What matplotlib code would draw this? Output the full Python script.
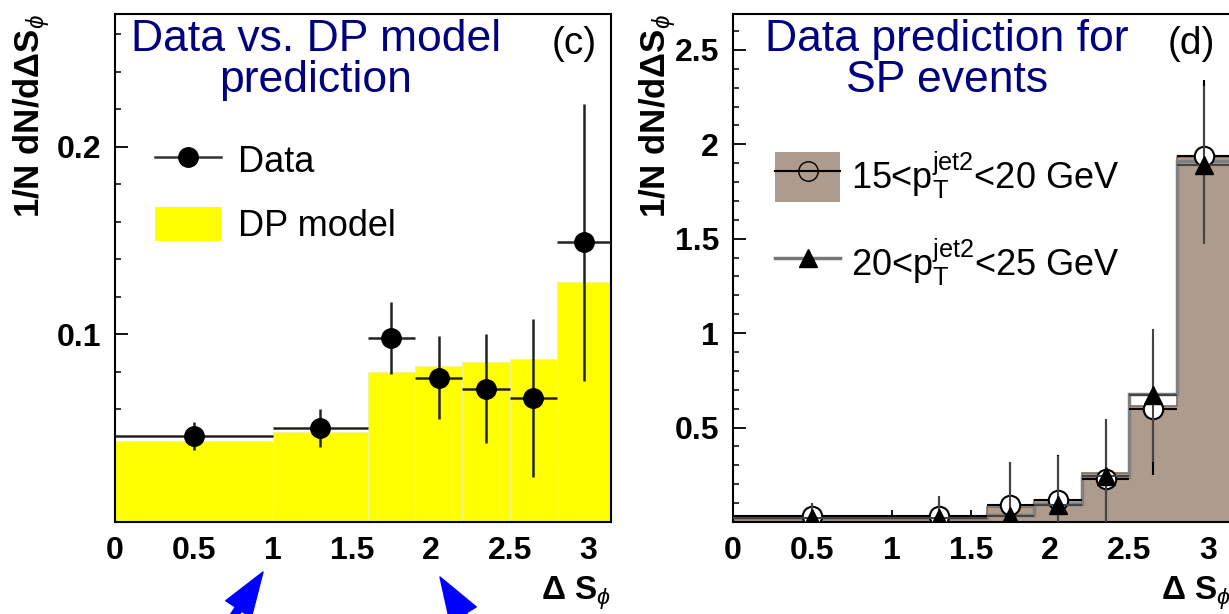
import matplotlib
matplotlib.use("Agg")
import matplotlib.pyplot as plt
import numpy as np
from matplotlib.patches import Patch, FancyArrowPatch
from matplotlib.lines import Line2D
from matplotlib.ticker import MultipleLocator

plt.rcParams['font.family'] = ['Liberation Sans', 'DejaVu Sans']
plt.rcParams['mathtext.fontset'] = 'custom'
plt.rcParams['mathtext.rm'] = 'Liberation Sans'
plt.rcParams['mathtext.it'] = 'Liberation Sans:italic'
plt.rcParams['mathtext.bf'] = 'Liberation Sans:bold'

# bin edges (same for both panels)
edges = [0, 1.0, 1.6, 1.9, 2.2, 2.5, 2.8, np.pi]

# panel (c)
dp_model = [0.043, 0.048, 0.080, 0.083, 0.085, 0.087, 0.128]
data_x = [0.5, 1.3, 1.75, 2.05, 2.35, 2.65, 2.97]
data_y = [0.0457, 0.050, 0.098, 0.077, 0.071, 0.066, 0.149]
data_err = [0.0075, 0.010, 0.019, 0.022, 0.029, 0.042, 0.074]

# panel (d)
sp_1520 = [0.02, 0.02, 0.077, 0.114, 0.257, 0.616, 1.934]
sp_2025 = [0.02, 0.02, 0.035, 0.095, 0.240, 0.680, 1.910]
pt1520_y = [0.03, 0.03, 0.088, 0.114, 0.230, 0.600, 1.940]
pt1520_err = [0.07, 0.11, 0.23, 0.24, 0.31, 0.35, 0.40]
pt2025_y = [0.02, 0.02, 0.030, 0.092, 0.246, 0.670, 1.890]
pt2025_err = [0.08, 0.12, 0.29, 0.26, 0.30, 0.35, 0.42]

lo = np.array(edges[:-1])
hi = np.array(edges[1:])
widths = hi - lo
half = widths / 2

fig = plt.figure(figsize=(12.29, 6.14), dpi=100)
axc = fig.add_axes([115/1229, 92/614, 496/1229, 508/614])
axd = fig.add_axes([733/1229, 92/614, 498/1229, 508/614])

navy = '#000080'
brown = '#ad9b8d'

# ---- (c)
axc.bar(lo, dp_model, width=widths, align='edge', color='#ffff00',
        edgecolor='#f4f4a0', lw=0.8, zorder=1)
axc.errorbar(data_x, data_y, yerr=data_err, xerr=half, fmt='o', color='black',
             ecolor='#222222', elinewidth=1.8, ms=14, capsize=0, zorder=3)
axc.set_xlim(0, np.pi)
axc.set_ylim(0, 0.2707)
axc.yaxis.set_minor_locator(MultipleLocator(0.02))
axc.set_yticks([0.1, 0.2])
axc.set_yticklabels(['0.1', '0.2'])
axc.text(0.405, 0.99, 'Data vs. DP model\nprediction', transform=axc.transAxes,
         ha='center', va='top', color=navy, fontsize=32, linespacing=1.0)
axc.text(0.972, 0.976, '(c)', transform=axc.transAxes, ha='right', va='top', fontsize=28)
hc = [Line2D([], [], color='#333333', lw=1.8, marker='o', ms=14, mfc='black', mec='black'),
      Patch(facecolor='#ffff00', edgecolor='none')]
axc.legend(hc, ['Data', 'DP model'], loc='upper left', bbox_to_anchor=(0.08, 0.748),
           frameon=False, fontsize=26, handlelength=1.85, handleheight=1.1,
           handletextpad=0.45, labelspacing=0.75, borderpad=0, borderaxespad=0)

# ---- (d)
axd.stairs(sp_1520, edges, fill=True, color=brown, zorder=1)
axd.stairs(sp_1520, edges, color='#7d6e62', lw=1.2, zorder=2)
axd.stairs(sp_2025, edges, color='#808080', lw=2.5, zorder=2)
axd.errorbar(data_x, pt1520_y, yerr=pt1520_err, xerr=half, fmt='o', color='black',
             mfc='white', mec='black', mew=1.5, ecolor='black', elinewidth=1.5,
             ms=14, capsize=0, zorder=3)
axd.errorbar(data_x, pt2025_y, yerr=pt2025_err, xerr=half, fmt='^', color='black',
             ecolor='#444444', elinewidth=1.5, ms=13, capsize=0, zorder=4)
axd.set_xlim(0, np.pi)
axd.set_ylim(0, 2.69)
axd.yaxis.set_minor_locator(MultipleLocator(0.1))
axd.set_yticks([0.5, 1, 1.5, 2, 2.5])
axd.set_yticklabels(['0.5', '1', '1.5', '2', '2.5'])
axd.text(0.43, 0.99, 'Data prediction for\nSP events', transform=axd.transAxes,
         ha='center', va='top', color=navy, fontsize=32, linespacing=1.0)
axd.text(0.968, 0.976, '(d)', transform=axd.transAxes, ha='right', va='top', fontsize=28)
hd = [(Patch(facecolor=brown, edgecolor='none'),
       Line2D([], [], color='black', lw=1.5, marker='o', ms=14, mfc='none', mec='black')),
      Line2D([], [], color='#777777', lw=2.5, marker='^', ms=13, mfc='black', mec='black')]
axd.legend(hd, ['15<p$_{\\mathrm{T}}^{\\mathrm{jet2}}$<20 GeV', '20<p$_{\\mathrm{T}}^{\\mathrm{jet2}}$<25 GeV'],
           loc='upper left', bbox_to_anchor=(0.085, 0.733), frameon=False, fontsize=26,
           handlelength=1.8, handleheight=1.75, handletextpad=0.3, labelspacing=0.95,
           borderpad=0, borderaxespad=0)

for ax, lx in [(axc, -0.128), (axd, -0.11)]:
    ax.set_axisbelow(True)
    ax.xaxis.set_minor_locator(MultipleLocator(0.1))
    ax.set_xticks([0, 0.5, 1, 1.5, 2, 2.5, 3])
    ax.set_xticklabels(['0', '0.5', '1', '1.5', '2', '2.5', '3'])
    ax.tick_params(which='both', direction='in', top=False, right=False)
    ax.tick_params(which='major', length=9, width=1.3, labelsize=23, pad=10)
    ax.tick_params(which='minor', length=4.5, width=1.1)
    for lab in ax.get_xticklabels() + ax.get_yticklabels():
        lab.set_fontweight('bold')
    for s in ax.spines.values():
        s.set_linewidth(1.5)
    ax.set_ylabel('1/N dN/d\u0394S$_{\\phi}$', fontsize=25, fontweight='bold', loc='top')
    ax.yaxis.set_label_coords(lx, 1.0)
    ax.set_xlabel('\u0394 S$_{\\phi}$', fontsize=24, fontweight='bold', loc='right', labelpad=6)

# blue arrows below panel (c)
for tail, tip in [((205, 660), (263, 572)), ((492, 662), (440, 577))]:
    arr = FancyArrowPatch((tail[0]/1229, 1 - tail[1]/614), (tip[0]/1229, 1 - tip[1]/614),
                          transform=fig.transFigure,
                          arrowstyle='simple,head_length=32,head_width=22,tail_width=5.5',
                          mutation_scale=1, shrinkA=0, shrinkB=0, color='#0000ff', clip_on=False)
    fig.add_artist(arr)

fig.savefig('out.png', dpi=100)
